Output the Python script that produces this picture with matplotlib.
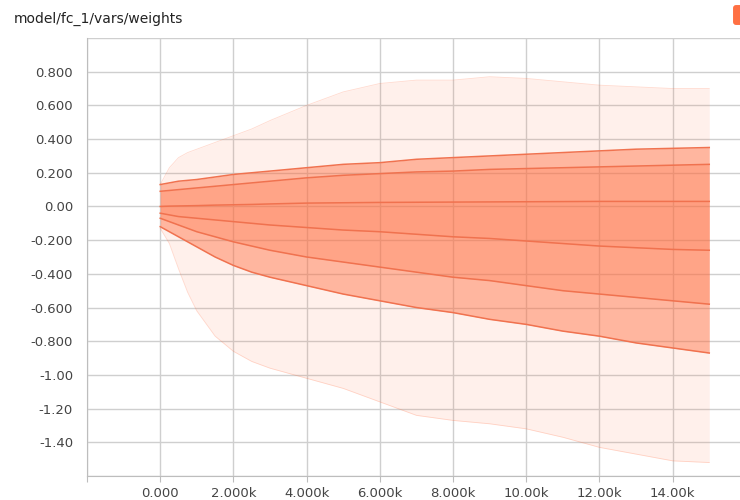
import matplotlib.pyplot as plt
from matplotlib.patches import FancyBboxPatch

# --- data ---
title = 'model/fc_1/vars/weights'
steps = [0, 250, 500, 750, 1000, 1500, 2000, 2500, 3000, 4000, 5000, 6000,
         7000, 8000, 9000, 10000, 11000, 12000, 13000, 14000, 15000]

w_max = [0.13, 0.23, 0.29, 0.32, 0.34, 0.38, 0.42, 0.46, 0.51, 0.60, 0.68, 0.73,
         0.75, 0.75, 0.77, 0.76, 0.74, 0.72, 0.71, 0.70, 0.70]
w_p93 = [0.13, 0.14, 0.15, 0.155, 0.16, 0.175, 0.19, 0.20, 0.21, 0.23, 0.25, 0.26,
         0.28, 0.29, 0.30, 0.31, 0.32, 0.33, 0.34, 0.345, 0.35]
w_p84 = [0.09, 0.095, 0.10, 0.105, 0.11, 0.12, 0.13, 0.14, 0.15, 0.17, 0.185, 0.195,
         0.205, 0.21, 0.22, 0.225, 0.23, 0.235, 0.24, 0.245, 0.25]
w_p50 = [0.0, 0.002, 0.003, 0.004, 0.005, 0.008, 0.01, 0.012, 0.015, 0.02, 0.022, 0.024,
         0.025, 0.026, 0.027, 0.028, 0.029, 0.03, 0.03, 0.03, 0.03]
w_p31 = [-0.04, -0.05, -0.06, -0.065, -0.07, -0.08, -0.09, -0.10, -0.11, -0.125, -0.14, -0.15,
         -0.165, -0.18, -0.19, -0.205, -0.22, -0.235, -0.245, -0.255, -0.26]
w_p16 = [-0.07, -0.09, -0.11, -0.13, -0.15, -0.18, -0.21, -0.235, -0.26, -0.30, -0.33, -0.36,
         -0.39, -0.42, -0.44, -0.47, -0.50, -0.52, -0.54, -0.56, -0.58]
w_p07 = [-0.12, -0.15, -0.18, -0.21, -0.24, -0.30, -0.35, -0.39, -0.42, -0.47, -0.52, -0.56,
         -0.60, -0.63, -0.67, -0.70, -0.74, -0.77, -0.81, -0.84, -0.87]
w_min = [-0.13, -0.22, -0.37, -0.51, -0.62, -0.77, -0.86, -0.92, -0.96, -1.02, -1.08, -1.16,
         -1.24, -1.27, -1.29, -1.32, -1.37, -1.43, -1.47, -1.51, -1.52]

x_ticks = [0, 2000, 4000, 6000, 8000, 10000, 12000, 14000]
x_labels = ['0.000', '2.000k', '4.000k', '6.000k', '8.000k', '10.00k', '12.00k', '14.00k']
y_ticks = [0.8, 0.6, 0.4, 0.2, 0.0, -0.2, -0.4, -0.6, -0.8, -1.0, -1.2, -1.4]
y_labels = ['0.800', '0.600', '0.400', '0.200', '0.00', '-0.200', '-0.400',
            '-0.600', '-0.800', '-1.00', '-1.20', '-1.40']

fill_color = '#ff7043'
line_color = '#f0724f'

fig = plt.figure(figsize=(7.4, 5), dpi=100)
ax = fig.add_axes([87 / 740, 24 / 500, 1 - 87 / 740, (476 - 38) / 500])

# nested percentile bands
ax.fill_between(steps, w_min, w_max, color=fill_color, alpha=0.1, lw=0)
ax.fill_between(steps, w_p07, w_p93, color=fill_color, alpha=0.45, lw=0)
ax.fill_between(steps, w_p16, w_p84, color=fill_color, alpha=0.25, lw=0)
ax.fill_between(steps, w_p31, w_p50, color=fill_color, alpha=0.1, lw=0)

ax.plot(steps, w_max, color=fill_color, lw=0.6, alpha=0.25)
ax.plot(steps, w_min, color=fill_color, lw=0.6, alpha=0.25)
for s in [w_p93, w_p84, w_p50, w_p31, w_p16, w_p07]:
    ax.plot(steps, s, color=line_color, lw=1.1)

ax.set_xlim(-1993, 15840)
ax.set_ylim(-1.6, 1.0)

ax.set_xticks([-2000] + x_ticks)
ax.set_xticklabels([''] + x_labels)
ax.set_yticks([1.0] + y_ticks + [-1.6])
ax.set_yticklabels([''] + y_labels + [''])

ax.grid(True, color='#cfcfcf', lw=1)
ax.set_axisbelow(True)
for side in ['top', 'right']:
    ax.spines[side].set_visible(False)
ax.spines['left'].set_color('#bdbdbd')
ax.spines['bottom'].set_color('#bdbdbd')
ax.tick_params(axis='x', length=4, color='#bdbdbd', labelsize=9.5,
               labelcolor='#444444', pad=4)
ax.tick_params(axis='y', length=0, labelsize=9.5, labelcolor='#444444', pad=10)

fig.text(14 / 740, 1 - 19 / 500, title, fontsize=10, color='#222222',
         va='center', ha='left')

# corner button partly cut off at the right edge
fig.patches.append(FancyBboxPatch((736 / 740, 1 - 22 / 500), 12 / 740, 14 / 500,
                                  boxstyle='round,pad=0.004', transform=fig.transFigure,
                                  facecolor='#ff7043', edgecolor='none',
                                  mutation_aspect=740 / 500))

fig.savefig('out.png', dpi=100)
